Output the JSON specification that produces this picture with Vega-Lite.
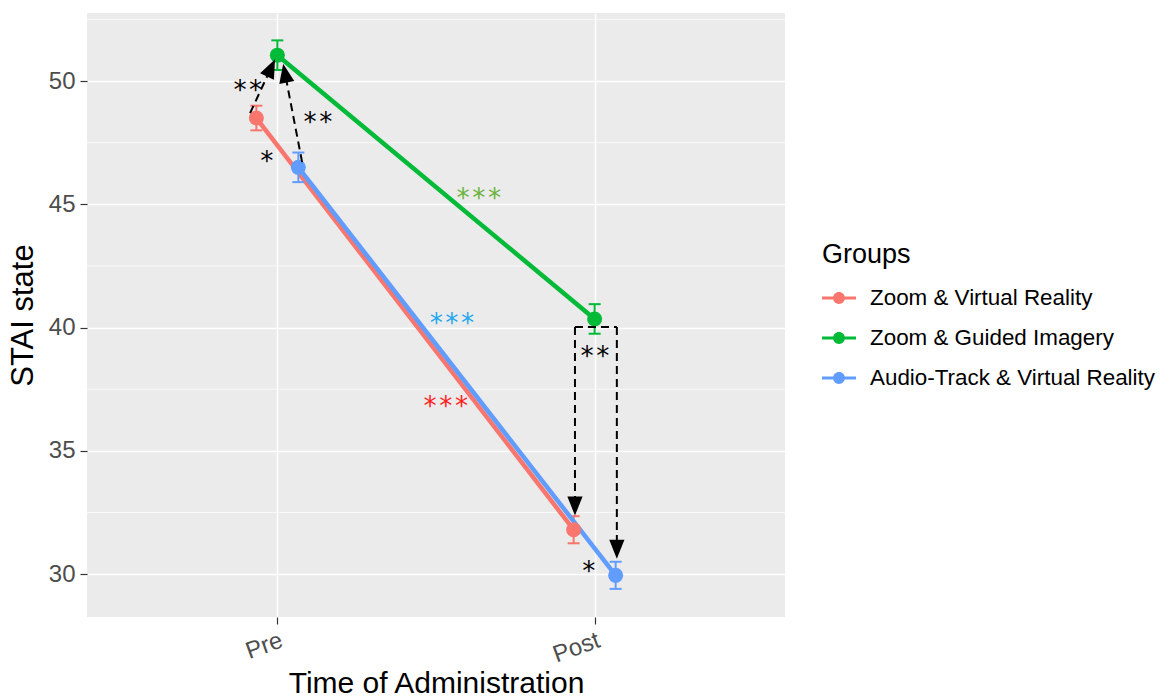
{
  "$schema": "https://vega.github.io/schema/vega-lite/v6.json",
  "width": 698,
  "height": 604,
  "autosize": {"type": "none"},
  "padding": {"left": 87, "top": 13, "right": 384, "bottom": 83},
  "background": "white",
  "config": {
    "font": "Liberation Sans",
    "view": {"fill": "#ebebeb", "stroke": null}
  },
  "datasets": {
    "means": [
      {"group": "Zoom & Virtual Reality", "time": 1, "stai": 48.5, "lo": 48.0, "hi": 49.0},
      {"group": "Zoom & Virtual Reality", "time": 2, "stai": 31.8, "lo": 31.25, "hi": 32.35},
      {"group": "Zoom & Guided Imagery", "time": 1, "stai": 51.05, "lo": 50.45, "hi": 51.65},
      {"group": "Zoom & Guided Imagery", "time": 2, "stai": 40.35, "lo": 39.75, "hi": 40.95},
      {"group": "Audio-Track & Virtual Reality", "time": 1, "stai": 46.5, "lo": 45.9, "hi": 47.1},
      {"group": "Audio-Track & Virtual Reality", "time": 2, "stai": 29.95, "lo": 29.4, "hi": 30.5}
    ],
    "minor": [{"stai": 32.5}, {"stai": 37.5}, {"stai": 42.5}, {"stai": 47.5}, {"stai": 52.5}],
    "pairwise": [
      {"label": "**", "time": 0.907, "stai": 49.88},
      {"label": "**", "time": 1.128, "stai": 48.58},
      {"label": "*", "time": 0.967, "stai": 47.0},
      {"label": "**", "time": 2.001, "stai": 39.09},
      {"label": "*", "time": 1.982, "stai": 30.36}
    ],
    "within": [
      {"group": "Zoom & Guided Imagery", "label": "***", "time": 1.635, "stai": 45.5},
      {"group": "Audio-Track & Virtual Reality", "label": "***", "time": 1.55, "stai": 40.43},
      {"group": "Zoom & Virtual Reality", "label": "***", "time": 1.531, "stai": 37.06}
    ],
    "arrows": [
      {"id": "a1", "time": 0.914, "stai": 48.7, "time2": 0.98, "stai2": 50.53},
      {"id": "a2", "time": 1.078, "stai": 46.71, "time2": 1.024, "stai2": 50.32},
      {"id": "a3", "time": 1.938, "stai": 40.02, "time2": 1.938, "stai2": 32.76},
      {"id": "a4", "time": 2.07, "stai": 40.02, "time2": 2.07, "stai2": 31.01},
      {"id": "top", "time": 1.938, "stai": 40.02, "time2": 2.07, "stai2": 40.02}
    ]
  },
  "layer": [
    {
      "data": {"name": "minor"},
      "mark": {"type": "rule", "color": "white", "strokeWidth": 0.7},
      "encoding": {
        "y": {
          "field": "stai", "type": "quantitative", "title": "STAI state",
          "scale": {"domain": [28.26, 52.76], "nice": false, "zero": false},
          "axis": {
            "values": [30, 35, 40, 45, 50],
            "grid": true, "gridColor": "white", "gridWidth": 1.5,
            "domain": false,
            "tickColor": "#333333", "tickSize": 7, "tickWidth": 1.2,
            "labelFontSize": 24, "labelColor": "#4d4d4d", "labelPadding": 5,
            "titleFontSize": 31, "titleFontWeight": "normal", "titleColor": "black",
            "titlePadding": 9
          }
        }
      }
    },
    {
      "data": {"name": "means"},
      "encoding": {
        "x": {
          "field": "time", "type": "quantitative", "title": "Time of Administration",
          "scale": {"domain": [0.4, 2.6], "nice": false, "zero": false},
          "axis": {
            "values": [1, 2],
            "labelExpr": "datum.value == 1 ? 'Pre' : 'Post'",
            "grid": true, "gridColor": "white", "gridWidth": 1.5,
            "domain": false,
            "tickColor": "#333333", "tickSize": 7, "tickWidth": 1.2,
            "labelAngle": -20, "labelAlign": "right", "labelBaseline": "top",
            "labelFontSize": 24, "labelColor": "#4d4d4d", "labelPadding": 4,
            "titleFontSize": 30, "titleFontWeight": "normal", "titleColor": "black",
            "titlePadding": 2
          }
        },
        "y": {"field": "stai", "type": "quantitative", "title": "STAI state"}
      },
      "layer": [
        {
          "transform": [{"filter": "datum.group === 'Zoom & Virtual Reality'"}],
          "layer": [
            {"mark": {"type": "line", "color": "#F8766D", "strokeWidth": 4.5, "xOffset": -21}},
            {"mark": {"type": "rule", "color": "#F8766D", "strokeWidth": 2, "xOffset": -21},
             "encoding": {"y": {"field": "lo", "type": "quantitative", "title": "STAI state"}, "y2": {"field": "hi"}}},
            {"mark": {"type": "tick", "orient": "horizontal", "color": "#F8766D", "size": 12, "thickness": 2, "opacity": 1, "xOffset": -21},
             "encoding": {"y": {"field": "lo", "type": "quantitative", "title": "STAI state"}}},
            {"mark": {"type": "tick", "orient": "horizontal", "color": "#F8766D", "size": 12, "thickness": 2, "opacity": 1, "xOffset": -21},
             "encoding": {"y": {"field": "hi", "type": "quantitative", "title": "STAI state"}}}
          ]
        },
        {
          "transform": [{"filter": "datum.group === 'Zoom & Guided Imagery'"}],
          "layer": [
            {"mark": {"type": "line", "color": "#00BA38", "strokeWidth": 4.5, "xOffset": 0}},
            {"mark": {"type": "rule", "color": "#00BA38", "strokeWidth": 2, "xOffset": 0},
             "encoding": {"y": {"field": "lo", "type": "quantitative", "title": "STAI state"}, "y2": {"field": "hi"}}},
            {"mark": {"type": "tick", "orient": "horizontal", "color": "#00BA38", "size": 12, "thickness": 2, "opacity": 1, "xOffset": 0},
             "encoding": {"y": {"field": "lo", "type": "quantitative", "title": "STAI state"}}},
            {"mark": {"type": "tick", "orient": "horizontal", "color": "#00BA38", "size": 12, "thickness": 2, "opacity": 1, "xOffset": 0},
             "encoding": {"y": {"field": "hi", "type": "quantitative", "title": "STAI state"}}}
          ]
        },
        {
          "transform": [{"filter": "datum.group === 'Audio-Track & Virtual Reality'"}],
          "layer": [
            {"mark": {"type": "line", "color": "#619CFF", "strokeWidth": 4.5, "xOffset": 21}},
            {"mark": {"type": "rule", "color": "#619CFF", "strokeWidth": 2, "xOffset": 21},
             "encoding": {"y": {"field": "lo", "type": "quantitative", "title": "STAI state"}, "y2": {"field": "hi"}}},
            {"mark": {"type": "tick", "orient": "horizontal", "color": "#619CFF", "size": 12, "thickness": 2, "opacity": 1, "xOffset": 21},
             "encoding": {"y": {"field": "lo", "type": "quantitative", "title": "STAI state"}}},
            {"mark": {"type": "tick", "orient": "horizontal", "color": "#619CFF", "size": 12, "thickness": 2, "opacity": 1, "xOffset": 21},
             "encoding": {"y": {"field": "hi", "type": "quantitative", "title": "STAI state"}}}
          ]
        },
        {
          "transform": [{"filter": "datum.group === 'Zoom & Virtual Reality'"}],
          "mark": {"type": "point", "filled": true, "size": 225, "opacity": 1, "xOffset": -21},
          "encoding": {
            "color": {
              "field": "group", "type": "nominal",
              "scale": {
                "domain": ["Zoom & Virtual Reality", "Zoom & Guided Imagery", "Audio-Track & Virtual Reality"],
                "range": ["#F8766D", "#00BA38", "#619CFF"]
              },
              "legend": {
                "title": "Groups",
                "orient": "none", "legendX": 735, "legendY": 229,
                "titleFontSize": 27, "titleFontWeight": "normal", "titleColor": "black", "titlePadding": 12,
                "labelFontSize": 22.4, "labelColor": "black", "labelOffset": 14, "labelLimit": 400,
                "symbolType": "M-1,-0.09L1,-0.09L1,0.09L-1,0.09ZM0.35,0A0.35,0.35,0,1,1,-0.35,0A0.35,0.35,0,1,1,0.35,0Z",
                "symbolSize": 1156, "symbolStrokeWidth": 0, "symbolOpacity": 1,
                "rowPadding": 11
              }
            }
          }
        },
        {
          "transform": [{"filter": "datum.group === 'Zoom & Guided Imagery'"}],
          "mark": {"type": "point", "filled": true, "size": 225, "opacity": 1, "xOffset": 0},
          "encoding": {"color": {"field": "group", "type": "nominal"}}
        },
        {
          "transform": [{"filter": "datum.group === 'Audio-Track & Virtual Reality'"}],
          "mark": {"type": "point", "filled": true, "size": 225, "opacity": 1, "xOffset": 21},
          "encoding": {"color": {"field": "group", "type": "nominal"}}
        }
      ]
    },
    {
      "data": {"name": "arrows"},
      "mark": {"type": "rule", "color": "black", "strokeWidth": 2, "strokeDash": [8, 5]},
      "encoding": {
        "x": {"field": "time", "type": "quantitative", "title": "Time of Administration"},
        "y": {"field": "stai", "type": "quantitative", "title": "STAI state"},
        "x2": {"field": "time2"},
        "y2": {"field": "stai2"}
      }
    },
    {
      "data": {"name": "arrows"},
      "encoding": {
        "x": {"field": "time2", "type": "quantitative", "title": "Time of Administration"},
        "y": {"field": "stai2", "type": "quantitative", "title": "STAI state"}
      },
      "layer": [
        {
          "transform": [{"filter": "datum.id === 'a1'"}],
          "mark": {"type": "point", "filled": true, "opacity": 1, "color": "black", "size": 361, "shape": "M0,-1L0.8,1L-0.8,1Z", "angle": 25}
        },
        {
          "transform": [{"filter": "datum.id === 'a2'"}],
          "mark": {"type": "point", "filled": true, "opacity": 1, "color": "black", "size": 361, "shape": "M0,-1L0.8,1L-0.8,1Z", "angle": 349}
        },
        {
          "transform": [{"filter": "datum.id === 'a3' || datum.id === 'a4'"}],
          "mark": {"type": "point", "filled": true, "opacity": 1, "color": "black", "size": 361, "shape": "M0,1L0.8,-1L-0.8,-1Z"}
        }
      ]
    },
    {
      "data": {"name": "pairwise"},
      "mark": {"type": "text", "font": "DejaVu Sans Mono", "fontSize": 26, "fill": "black", "baseline": "alphabetic", "dy": 15},
      "encoding": {
        "x": {"field": "time", "type": "quantitative", "title": "Time of Administration"},
        "y": {"field": "stai", "type": "quantitative", "title": "STAI state"},
        "text": {"field": "label"}
      }
    },
    {
      "data": {"name": "within"},
      "mark": {"type": "text", "font": "DejaVu Sans Mono", "fontSize": 26, "baseline": "alphabetic", "dy": 15},
      "encoding": {
        "x": {"field": "time", "type": "quantitative", "title": "Time of Administration"},
        "y": {"field": "stai", "type": "quantitative", "title": "STAI state"},
        "text": {"field": "label"},
        "fill": {
          "field": "group", "type": "nominal",
          "scale": {
            "domain": ["Zoom & Virtual Reality", "Zoom & Guided Imagery", "Audio-Track & Virtual Reality"],
            "range": ["#FF1F1F", "#6DB33F", "#1EA7F0"]
          },
          "legend": null
        }
      }
    }
  ]
}
